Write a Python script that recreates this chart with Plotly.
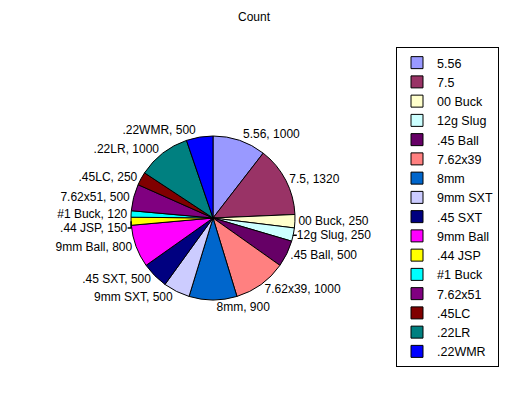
import plotly.graph_objects as go

labels = ["5.56", "7.5", "00 Buck", "12g Slug", ".45 Ball", "7.62x39", "8mm", "9mm SXT",
          ".45 SXT", "9mm Ball", ".44 JSP", "#1 Buck", "7.62x51", ".45LC", ".22LR", ".22WMR"]
values = [1000, 1320, 250, 250, 500, 1000, 900, 500, 500, 800, 150, 120, 500, 250, 1000, 500]
colors = ["#9999FF", "#993366", "#FFFFCC", "#CCFFFF", "#660066", "#FF8080", "#0066CC", "#CCCCFF",
          "#000080", "#FF00FF", "#FFFF00", "#00FFFF", "#800080", "#800000", "#008080", "#0000FF"]

W, H = 508, 396
cx, cy, r = 213, 218, 82

fig = go.Figure(go.Pie(
    labels=labels, values=values, sort=False, direction="clockwise", rotation=0,
    marker=dict(colors=colors, line=dict(color="black", width=1)),
    texttemplate="%{label}, %{value:.0f}", textposition="outside",
    textfont=dict(family="Liberation Sans, Arial", size=12, color="black"),
    domain=dict(x=[(cx - r) / W, (cx + r) / W], y=[(H - cy - r) / H, (H - cy + r) / H]),
    hoverinfo="label+value",
))

fig.update_layout(
    width=W, height=H, margin=dict(l=0, r=0, t=0, b=0, autoexpand=False),
    paper_bgcolor="white", plot_bgcolor="white",
    title=dict(text="Count", x=0.5, xanchor="center", y=1 - 17 / H, yanchor="middle",
               font=dict(family="Liberation Sans, Arial", size=12, color="black")),
    font=dict(family="Liberation Sans, Arial", size=12, color="black"),
    legend=dict(x=396 / W, y=1 - 47 / H, xanchor="left", yanchor="top",
                bordercolor="black", borderwidth=1, bgcolor="white",
                font=dict(size=12.5), itemwidth=30),
    showlegend=True,
)

fig.write_html("out.html")
